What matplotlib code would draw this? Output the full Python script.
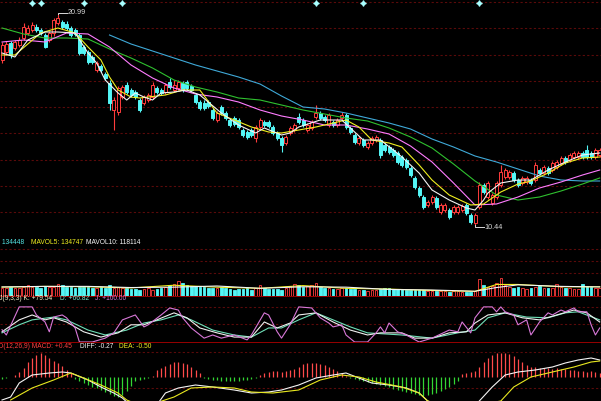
import numpy as np
import matplotlib.pyplot as plt
from matplotlib.transforms import blended_transform_factory

# ---- price candles ----
opens = [18.7, 19.1, 19.55, 19.3, 19.45, 19.8, 20.05, 20.2, 20.35, 20.2,
         19.95, 19.7, 20.05, 20.55, 20.6, 20.5, 20.3, 20.2, 19.95, 19.35,
         19.1, 18.85, 18.2, 18.4, 18.0, 17.55, 16.2, 16.1, 16.85, 17.45,
         17.2, 17.1, 16.7, 16.55, 16.7, 16.85, 17.3, 17.2, 17.1, 17.6,
         17.2, 17.3, 17.55, 17.6, 17.4, 16.95, 16.6, 16.55, 16.6, 16.2,
         15.7, 16.35, 16.05, 15.7, 15.8, 15.7, 15.2, 15.1, 15.2, 14.8,
         15.35, 15.6, 15.6, 15.35, 15.05, 14.8, 14.55, 15.05, 15.2, 15.85,
         15.7, 15.2, 15.3, 15.85, 16.05, 15.85, 15.45, 15.6, 15.45, 15.8,
         15.95, 15.3, 14.95, 14.55, 14.7, 14.35, 14.55, 14.7, 14.7, 14.45,
         14.35, 14.2, 14.05, 13.85, 13.7, 13.3, 12.8, 12.3, 11.85, 11.45,
         11.6, 11.8, 11.1, 11.2, 11.2, 11.1, 11.1, 11.2, 11.45, 10.95,
         10.55, 11.35, 12.45, 11.85, 11.55, 11.85, 12.45, 12.85, 12.85, 13.05,
         12.7, 12.55, 12.6, 12.7, 12.7, 13.2, 13.05, 13.3, 13.2, 13.35,
         13.55, 13.8, 13.7, 13.85, 13.85, 14.05, 14.2, 14.05, 13.85, 13.95]
closes = [19.45, 19.5, 18.95, 19.6, 19.7, 20.35, 20.3, 20.45, 20.2, 20.05,
          19.35, 20.05, 20.7, 20.8, 20.35, 20.3, 19.95, 20.0, 19.05, 19.05,
          18.6, 18.6, 18.55, 18.2, 17.8, 16.55, 16.7, 17.3, 17.35, 17.1,
          16.95, 16.85, 16.2, 16.85, 16.95, 17.45, 17.1, 17.05, 17.45, 17.35,
          17.45, 17.6, 17.2, 17.3, 17.2, 16.6, 16.3, 16.3, 16.4, 15.8,
          16.05, 16.05, 15.8, 15.45, 15.5, 15.35, 14.95, 14.85, 14.95, 15.35,
          15.7, 15.45, 15.4, 15.05, 14.8, 14.45, 14.85, 15.3, 15.45, 15.6,
          15.45, 15.45, 15.6, 16.05, 15.8, 15.7, 15.95, 15.45, 15.7, 15.95,
          15.35, 15.1, 14.6, 14.8, 14.45, 14.55, 14.8, 14.85, 13.95, 14.2,
          14.1, 13.95, 13.6, 13.45, 13.35, 12.95, 12.35, 11.95, 11.35, 11.6,
          11.85, 11.35, 11.45, 11.45, 10.85, 11.35, 11.35, 11.4, 11.05, 10.6,
          10.95, 12.45, 12.1, 12.55, 11.95, 12.55, 13.1, 13.2, 13.1, 12.7,
          12.45, 12.8, 12.8, 12.55, 13.45, 13.05, 13.35, 13.05, 13.55, 13.6,
          13.8, 13.6, 13.95, 14.05, 14.05, 13.85, 13.85, 13.85, 14.2, 14.2]
highs = [19.6, 19.65, 19.65, 19.7, 19.85, 20.55, 20.45, 20.6, 20.5, 20.3,
         20.05, 20.15, 20.8, 20.99, 20.7, 20.65, 20.4, 20.3, 20.05, 19.45,
         19.2, 18.95, 18.65, 18.5, 18.1, 17.7, 16.85, 17.4, 17.45, 17.6,
         17.3, 17.2, 16.8, 16.95, 17.05, 17.6, 17.4, 17.3, 17.55, 17.8,
         17.7, 17.7, 17.65, 17.7, 17.5, 17.05, 16.7, 16.7, 16.7, 16.3,
         16.15, 16.45, 16.15, 15.8, 15.9, 15.8, 15.3, 15.2, 15.3, 15.45,
         15.8, 15.7, 15.7, 15.45, 15.15, 14.9, 14.95, 15.4, 15.55, 16.05,
         15.8, 15.55, 15.7, 16.45, 16.15, 15.95, 16.05, 15.7, 15.8, 16.1,
         16.05, 15.4, 15.05, 14.9, 14.8, 14.65, 14.9, 14.95, 14.8, 14.55,
         14.45, 14.3, 14.15, 13.95, 13.8, 13.4, 12.9, 12.4, 11.95, 11.7,
         11.95, 11.9, 11.55, 11.55, 11.3, 11.45, 11.45, 11.5, 11.55, 11.05,
         11.05, 12.6, 12.55, 12.65, 12.05, 12.65, 13.45, 13.3, 13.2, 13.15,
         12.8, 12.9, 12.9, 12.8, 13.6, 13.3, 13.45, 13.4, 13.65, 13.7,
         13.9, 13.9, 14.05, 14.15, 14.15, 14.15, 14.45, 14.15, 14.3, 14.3]
lows = [18.55, 18.95, 18.8, 19.2, 19.35, 19.7, 19.95, 20.1, 20.1, 19.95,
        19.3, 19.6, 19.9, 20.45, 20.25, 20.2, 19.85, 19.9, 18.95, 18.95,
        18.5, 18.5, 18.1, 18.1, 17.7, 16.2, 15.2, 15.95, 16.75, 17.0,
        16.85, 16.75, 16.1, 16.45, 16.6, 16.75, 17.0, 16.95, 17.0, 17.25,
        17.1, 17.2, 17.1, 17.2, 17.1, 16.5, 16.2, 16.2, 16.3, 15.7,
        15.6, 15.95, 15.7, 15.35, 15.4, 15.25, 14.85, 14.75, 14.85, 14.6,
        15.25, 15.35, 15.3, 14.95, 14.7, 14.1, 14.45, 14.95, 15.1, 15.5,
        15.35, 15.1, 15.2, 15.75, 15.7, 15.6, 15.35, 15.35, 15.35, 15.7,
        15.25, 15.0, 14.5, 14.45, 14.35, 14.25, 14.45, 14.6, 13.8, 14.1,
        14.0, 13.85, 13.5, 13.35, 13.25, 12.85, 12.25, 11.85, 11.25, 11.35,
        11.5, 11.25, 11.0, 11.1, 10.75, 11.0, 11.0, 11.1, 10.95, 10.5,
        10.44, 11.25, 12.0, 11.75, 11.45, 11.75, 12.35, 12.75, 12.75, 12.6,
        12.35, 12.45, 12.5, 12.45, 12.6, 12.95, 12.95, 12.95, 13.1, 13.25,
        13.45, 13.5, 13.6, 13.75, 13.75, 13.75, 13.75, 13.75, 13.75, 13.85]

# moving averages (read at turning points)
ma5_idx = [0, 3, 6, 10, 13, 17, 20, 22, 24, 27, 29, 31, 33, 35, 37, 40, 43, 46, 51, 55,
           59, 61, 65, 67, 69, 74, 79, 81, 84, 88, 91, 93, 97, 100, 104, 108, 110, 112, 113, 116,
           120, 123, 127, 131, 135, 139]
ma5 = [19.05, 18.85, 19.7, 20.1, 20.1, 20.05, 19.05, 18.55, 17.7, 17.05,
       16.7, 17.05, 16.85, 16.7, 17.05, 17.1, 17.2, 16.95, 16.05, 15.45,
       15.05, 15.3, 14.95, 15.05, 15.35, 15.7, 15.7, 15.3, 14.7, 14.7,
       14.2, 13.85, 13.05, 12.2, 11.7, 11.3, 11.2, 11.7, 12.05, 12.55,
       12.7, 12.7, 13.2, 13.6, 13.95, 14.05]
ma10_idx = [0, 3, 9, 13, 17, 20, 23, 25, 27, 30, 32, 34, 38, 42, 46, 50, 54, 58, 62, 65,
            69, 73, 77, 80, 83, 86, 90, 93, 97, 100, 104, 109, 112, 116, 120, 123, 127, 131, 135, 139]
ma10 = [18.95, 18.95, 20.05, 20.3, 20.05, 19.35, 18.7, 17.85, 17.2, 16.85,
        16.8, 16.85, 16.95, 17.2, 17.2, 16.05, 15.7, 15.35, 15.1, 15.05,
        15.2, 15.35, 15.55, 15.7, 15.35, 14.7, 14.55, 14.35, 13.45, 12.7,
        11.95, 11.45, 11.5, 12.1, 12.5, 12.65, 13.05, 13.55, 13.8, 13.85]
ma_idx = list(range(0, 140, 5)) + [139]
ma20 = [19.6, 19.7, 19.6, 20.05, 20.0, 19.35, 18.45, 17.8, 17.3, 17.0, 16.85, 16.6, 16.2, 15.9,
        15.7, 15.45, 15.45, 15.25, 15.0, 14.4, 13.6, 12.55, 11.45, 11.5, 11.85, 12.3, 12.6, 12.95, 13.2]
ma30 = [20.3, 20.0, 19.8, 19.8, 19.75, 19.25, 18.8, 18.3, 17.7, 17.35, 17.1, 16.8, 16.7, 16.45,
        16.2, 16.0, 15.8, 15.65, 15.3, 14.85, 14.3, 13.5, 12.65, 11.95, 11.7, 11.85, 12.15, 12.5, 12.8]
ma60_idx = list(range(25, 140, 5)) + [139]
ma60 = [19.95, 19.5, 19.15, 18.8, 18.45, 18.15, 17.85, 17.5, 16.9, 16.35, 16.25, 16.05,
        15.8, 15.55, 15.25, 14.75, 14.35, 13.9, 13.6, 13.25, 12.9, 12.7, 12.65, 12.65]

signal_idx = [7, 9, 19, 28, 73, 84, 111]

# ---- volume (thousand shares) ----
vol_k = [110, 104, 117, 110, 104, 121, 143, 123, 121, 100,
         134, 117, 121, 152, 143, 121, 113, 104, 121, 121,
         113, 104, 100, 121, 110, 143, 108, 121, 110, 100,
         91, 91, 78, 91, 100, 78, 91, 100, 121, 143,
         156, 195, 165, 143, 134, 130, 121, 113, 108, 100,
         110, 121, 98, 91, 78, 87, 91, 100, 78, 104,
         143, 104, 91, 91, 85, 78, 100, 130, 152, 143,
         121, 134, 143, 165, 117, 100, 100, 87, 94, 100,
         100, 95, 91, 78, 74, 69, 78, 82, 87, 104,
         108, 87, 87, 85, 78, 78, 78, 78, 72, 69,
         65, 65, 65, 59, 56, 65, 59, 56, 56, 56,
         59, 221, 143, 121, 130, 165, 230, 143, 117, 100,
         113, 104, 91, 100, 117, 134, 108, 104, 100, 152,
         121, 108, 100, 91, 95, 152, 130, 121, 104, 100]
mavol_idx = [0, 10, 20, 30, 40, 50, 60, 70, 80, 90, 100, 110, 115, 120, 130, 139]
mavol5 = [115, 125, 120, 105, 140, 115, 100, 135, 100, 90, 72, 60, 150, 150, 120, 120]
mavol10 = [118, 125, 125, 110, 115, 130, 100, 120, 115, 85, 78, 62, 110, 145, 125, 118]

# ---- KDJ ----
k_idx = [0, 4, 7, 10, 12, 15, 19, 23, 27, 30, 33, 36, 40, 43, 46, 50, 54, 58, 61, 64, 67, 69,
         73, 77, 81, 85, 88, 93, 96, 100, 104, 108, 110, 113, 117, 121, 125, 129, 133, 136, 139]
k_val = [29, 63, 77, 63, 69, 57, 29, 14, 26, 49, 49, 63, 83, 69, 40, 26, 14, 14, 57, 40, 54, 77,
         83, 57, 34, 20, 26, 26, 11, 11, 26, 29, 54, 77, 83, 69, 63, 77, 91, 83, 57]
d_idx = [0, 4, 7, 12, 15, 20, 24, 29, 33, 37, 41, 44, 49, 54, 58, 62, 65, 69, 73, 77, 81, 85,
         93, 100, 106, 110, 113, 117, 122, 127, 131, 134, 139]
d_val = [26, 49, 63, 71, 63, 34, 20, 34, 54, 63, 77, 63, 34, 20, 14, 40, 40, 63, 83, 63, 43, 26,
         20, 11, 26, 34, 69, 83, 71, 69, 83, 86, 63]
j_idx = [0, 1, 4, 7, 8, 10, 11, 12, 14, 15, 17, 18, 21, 24, 26, 28, 31, 33, 34, 37, 39, 41, 42,
         44, 47, 49, 51, 54, 57, 58, 61, 62, 64, 65, 67, 69, 72, 74, 76, 77, 79, 80, 82, 85, 87,
         88, 89, 90, 92, 94, 97, 100, 104, 106, 107, 109, 110, 112, 114, 115, 116, 117, 119, 120,
         122, 123, 125, 127, 128, 130, 131, 133, 134, 136, 137, 138, 139]
j_val = [35, 20, 100, 100, 77, 57, 29, 71, 77, 69, 40, 0, 0, 11, 26, 63, 77, 43, 49, 77, 97, 91, 69,
         40, 11, 20, 11, 20, 6, 20, 83, 77, 29, 11, 49, 100, 97, 69, 54, 43, 49, 20, 0, 0, 26,
         43, 26, 54, 29, 20, 0, 11, 34, 29, 57, 26, 69, 100, 100, 86, 100, 86, 77, 49,
         63, 20, 57, 83, 77, 91, 86, 97, 86, 86, 49, 20, 40]

# ---- MACD ----
macd_hist = [-0.1, -0.05, 0.0, 0.1, 0.25, 0.45, 0.75, 0.95, 1.1, 1.2,
             1.1, 0.95, 0.8, 0.7, 0.55, 0.35, 0.2, -0.1, -0.2, -0.3,
             -0.4, -0.5, -0.55, -0.65, -0.75, -0.85, -0.95, -1.0, -0.9, -0.7,
             -0.45, -0.2, -0.15, -0.1, -0.05, 0.05, 0.35, 0.45, 0.55, 0.65,
             0.75, 0.75, 0.7, 0.65, 0.5, 0.35, 0.2, -0.05, -0.1, -0.15,
             -0.15, -0.2, -0.2, -0.2, -0.2, -0.2, -0.15, -0.15, -0.1, -0.05,
             0.1, 0.2, 0.25, 0.3, 0.3, 0.25, 0.3, 0.35, 0.4, 0.5,
             0.65, 0.7, 0.7, 0.7, 0.65, 0.6, 0.5, 0.4, 0.3, 0.2,
             0.05, -0.05, -0.1, -0.15, -0.2, -0.25, -0.3, -0.35, -0.4, -0.45,
             -0.5, -0.6, -0.65, -0.7, -0.75, -0.8, -0.85, -0.9, -0.95, -0.9,
             -0.85, -0.8, -0.7, -0.6, -0.5, -0.35, -0.2, 0.15, 0.2, 0.25,
             0.3, 0.5, 0.75, 0.95, 1.1, 1.2, 1.2, 1.2, 1.15, 1.05,
             0.9, 0.75, 0.6, 0.5, 0.5, 0.45, 0.45, 0.45, 0.4, 0.45,
             0.4, 0.4, 0.35, 0.35, 0.3, 0.3, 0.25, 0.3, 0.25, 0.2]
diff_idx = [0, 2, 4, 7, 11, 14, 16, 20, 23, 26, 28, 29, 33, 36, 38, 41, 45, 49, 54, 58, 62, 65, 69,
            73, 77, 80, 83, 86, 90, 94, 97, 99, 104, 110, 111, 114, 117, 120, 124, 128, 131, 134, 137, 139]
diff_val = [-1.15, -1.0, -0.3, 0.1, 0.2, 0.25, 0.2, -0.15, -0.5, -0.8, -1.05, -1.25, -1.6, -1.4, -0.8,
            -0.55, -0.4, -0.5, -0.65, -0.8, -0.75, -0.65, -0.4, -0.05, 0.1, 0.2, -0.05, -0.3, -0.4,
            -0.55, -0.8, -1.2, -1.6, -1.4, -1.2, -0.5, 0.1, 0.25, 0.35, 0.5, 0.7, 0.85, 0.95, 0.85]
dea_idx = [2, 7, 12, 16, 19, 23, 27, 29, 33, 40, 44, 49, 54, 58, 63, 69, 74, 79, 83, 87, 93, 97, 99,
           106, 116, 119, 123, 128, 133, 137, 139]
dea_val = [-1.15, -0.55, -0.15, 0.2, -0.05, -0.4, -0.8, -1.15, -1.5, -1.0, -0.55, -0.5, -0.55, -0.75,
           -0.8, -0.65, -0.15, 0.1, 0.0, -0.25, -0.5, -0.8, -1.2, -1.6, -1.2, -0.5, 0.0, 0.25, 0.5, 0.75, 0.8]

RED = '#ff3c3c'
CYAN = '#54f6f6'
GRID = '#5a0a0a'
W, H = 601, 401

fig = plt.figure(figsize=(W / 100, H / 100), dpi=100, facecolor='black')


def panel(top, bottom, ylim):
    ax = fig.add_axes([0, 1 - bottom / H, 1, (bottom - top) / H])
    ax.set_facecolor('black')
    ax.set_xlim(-0.47, 139.3)
    ax.set_ylim(*ylim)
    for s in ax.spines.values():
        s.set_visible(False)
    ax.set_xticks([])
    ax.set_yticks([])
    return ax


def grid(ax, levels):
    for lv in levels:
        ax.axhline(lv, color=GRID, lw=0.8, ls=(0, (2, 2)), zorder=0)


idx = np.arange(len(opens))
o = np.array(opens); c = np.array(closes)
up = c >= o
cols = [RED if u else CYAN for u in up]
faces = ['black' if u else CYAN for u in up]

# price panel
ax1 = panel(0, 238, (9.8, 21.7))
grid(ax1, [21.6 - k * 1.315 for k in range(10)])
ax1.vlines(idx, lows, highs, colors=cols, lw=0.8, zorder=2)
body = np.maximum(np.abs(c - o), 0.03)
ax1.bar(idx, body, bottom=np.minimum(o, c), width=0.7, color=faces, edgecolor=cols, lw=0.7, zorder=3)
ax1.plot(ma60_idx, ma60, color='#3fa9d8', lw=0.8, zorder=4)
ax1.plot(ma_idx, ma30, color='#2fc02f', lw=0.8, zorder=4)
ax1.plot(ma_idx, ma20, color='#ff7cff', lw=0.8, zorder=4)
ax1.plot(ma10_idx, ma10, color='#f0f020', lw=0.8, zorder=4)
ax1.plot(ma5_idx, ma5, color='#f4f4f4', lw=0.8, zorder=4)
tr = blended_transform_factory(ax1.transData, ax1.transAxes)
ax1.scatter(signal_idx, [0.988] * len(signal_idx), transform=tr, marker=(4, 1, 0), s=14,
            color='#a8ffff', zorder=5, clip_on=False)

fs = 4.8
ff = ['Liberation Sans', 'DejaVu Sans']

hi_i = int(np.argmax(highs)); lo_i = int(np.argmin(lows))
ax1.plot([hi_i, hi_i, hi_i + 2.0], [highs[hi_i], highs[hi_i] + 0.07, highs[hi_i] + 0.07], color='#d8d8d8', lw=0.7)
ax1.text(hi_i + 2.2, highs[hi_i] + 0.07, '20.99', color='#d8d8d8', fontsize=fs + 0.4, va='center', family=ff)
ax1.plot([lo_i, lo_i, lo_i + 2.0], [lows[lo_i], lows[lo_i] - 0.1, lows[lo_i] - 0.1], color='#d8d8d8', lw=0.7)
ax1.text(lo_i + 2.2, lows[lo_i] - 0.1, '10.44', color='#d8d8d8', fontsize=fs + 0.4, va='center', family=ff)

# volume panel
ax2 = panel(238, 296, (0, 754))
grid(ax2, [754 - 11 * 13, 754 - 23 * 13, 754 - 35 * 13])
ax2.bar(idx, vol_k, width=0.6, color=faces, edgecolor=cols, lw=0.6, zorder=3)
ax2.plot(mavol_idx, mavol5, color='#f0f020', lw=0.8, zorder=4)
ax2.plot(mavol_idx, mavol10, color='#f4f4f4', lw=0.8, zorder=4)

# KDJ panel
ax3 = panel(296, 342, (0, 131))
grid(ax3, [100, 50])
ax3.plot(d_idx, d_val, color='#6fe0b8', lw=0.8)
ax3.plot(k_idx, k_val, color='#f0f0f0', lw=0.8)
ax3.plot(j_idx, j_val, color='#d878d8', lw=0.8)
ax3.axhline(131, color='#b00000', lw=1.2)

# MACD panel
ax4 = panel(342, 401, (-1.2, 1.75))
grid(ax4, [1.25, -0.55])
hcols = ['#ff4a4a' if v >= 0 else '#33d633' for v in macd_hist]
ax4.vlines(idx, 0, macd_hist, colors=hcols, lw=0.9)
ax4.plot(diff_idx, diff_val, color='#f4f4f4', lw=0.8)
ax4.plot(dea_idx, dea_val, color='#e8e820', lw=0.8)
ax4.axhline(1.75, color='#b00000', lw=1.2)


# header texts (left ends run off the canvas as in the original)
def hdr(x, y, s, col, ha='left'):
    fig.text(x / W, 1 - y / H, s, color=col, fontsize=fs, family=ff, ha=ha, va='center')


hdr(24, 243, 'VOL: 134448', '#54e6e6', ha='right')
hdr(31, 243, 'MAVOL5: 134747', '#f0f020')
hdr(86, 243, 'MAVOL10: 118114', '#f4f4f4')
hdr(52, 299, 'KDJ(9,3,3) K: +79.54', '#f0f0c8', ha='right')
hdr(60, 299, 'D: +66.82', '#7ee6d0')
hdr(95, 299, 'J: +100.00', '#d878d8')
hdr(72, 347, 'MACD(12,26,9) MACD: +0.45', '#ff4040', ha='right')
hdr(80, 347, 'DIFF: -0.27', '#f4f4f4')
hdr(119, 347, 'DEA: -0.50', '#f0f020')

fig.savefig('out.png', dpi=100, facecolor='black')
